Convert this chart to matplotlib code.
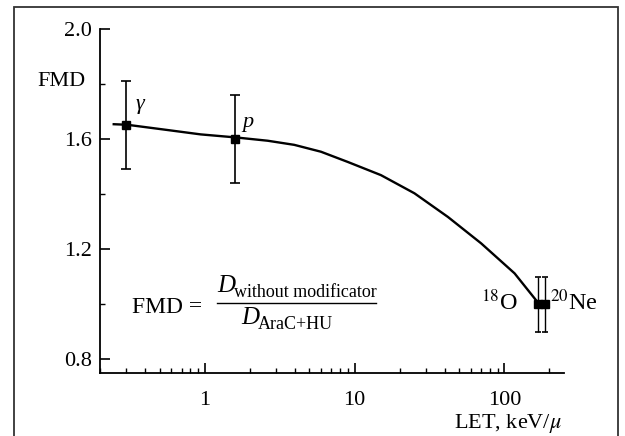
import matplotlib
matplotlib.use("Agg")
import matplotlib.pyplot as plt
from matplotlib.patches import Rectangle
from matplotlib.lines import Line2D
from matplotlib.ticker import FixedLocator, NullFormatter

plt.rcParams['font.family'] = ['Liberation Serif', 'DejaVu Serif']
plt.rcParams['mathtext.fontset'] = 'stix'

# measured points
let_pts = [0.3, 1.6]
fmd_pts = [1.65, 1.60]
fmd_err = [0.16, 0.16]
point_labels = ['γ', 'p']

# heavy ions (18O and 20Ne)
let_ions = [167, 187]
fmd_ions = [1.0, 1.0]
err_ions = [0.1, 0.1]

# fitted curve
curve_let = [0.247, 0.304, 0.563, 0.94, 1.61, 2.63, 3.96, 5.97, 9.0,
             15.0, 25.1, 42.0, 70.0, 117.0, 168.0]
curve_fmd = [1.654, 1.652, 1.633, 1.617, 1.606, 1.594, 1.579, 1.554, 1.517,
             1.469, 1.403, 1.317, 1.221, 1.112, 1.005]

yticks_major = [0.8, 1.2, 1.6, 2.0]
yticks_minor = [1.0, 1.4, 1.8]

fig = plt.figure(figsize=(6.25, 4.36), dpi=100)
ax = fig.add_axes([0.16, 0.1445, 0.7424, 0.789])

# outer frame of the figure panel
fig.patches.append(Rectangle((14/625, -0.1), (618-14)/625, 1.1 - 7/436,
                             transform=fig.transFigure, fill=False,
                             edgecolor='#333333', lw=1.3))

ax.plot(curve_let, curve_fmd, color='black', lw=1.7, zorder=2,
        solid_joinstyle='round')
ax.errorbar(let_pts, fmd_pts, yerr=fmd_err, fmt='s', color='black',
            ms=6, capsize=3.5, elinewidth=1.2, capthick=1.2, zorder=3)
ax.errorbar(let_ions, fmd_ions, yerr=err_ions, fmt='s', color='black',
            ms=6, capsize=2.5, elinewidth=1.0, capthick=1.2, zorder=3)

ax.set_xscale('log')
ax.set_xlim(0.2, 250)
ax.set_ylim(0.75, 2.0)

for s in ['top', 'right']:
    ax.spines[s].set_visible(False)
for s in ['left', 'bottom']:
    ax.spines[s].set_linewidth(1.3)

ax.set_yticks(yticks_major)
ax.set_yticklabels(['0.8', '1.2', '1.6', '2.0'])
ax.yaxis.set_minor_locator(FixedLocator(yticks_minor))
ax.set_xticks([1, 10, 100])
ax.set_xticklabels(['1', '10', '100'])
ax.xaxis.set_minor_formatter(NullFormatter())
ax.tick_params(which='major', direction='in', length=7, width=1.2,
               labelsize=16)
ax.tick_params(axis='y', which='major', pad=6)
ax.tick_params(axis='x', which='major', pad=13)
ax.tick_params(which='minor', direction='in', length=3.6, width=1.0)

# labels
ax.text(-0.032, 0.848, 'FMD', transform=ax.transAxes, fontsize=16,
        ha='right', va='center')
ax.text(0.995, -0.16, r'LET, keV/$\mu$', transform=ax.transAxes, fontsize=16,
        ha='right', va='baseline')

ax.annotate(point_labels[0], (let_pts[0], fmd_pts[0]), xytext=(6.5, 12),
            textcoords='offset points', fontsize=16, style='italic',
            va='baseline')
ax.annotate(point_labels[1], (let_pts[1], fmd_pts[1]), xytext=(5, 8.6),
            textcoords='offset points', fontsize=16, style='italic',
            va='baseline')
ax.annotate(r'$^{18}$O', (let_ions[0], fmd_ions[0]), xytext=(-14, -4.5),
            textcoords='offset points', fontsize=17.5, ha='right',
            va='baseline')
ax.annotate(r'$^{20}$Ne', (let_ions[1], fmd_ions[1]), xytext=(3.6, -4.5),
            textcoords='offset points', fontsize=17.5, ha='left',
            va='baseline')


# formula, placed in pixel-ish positions converted to axes fraction
def axpos(px, py):
    return (px - 100) / 464, (373 - py) / 344


def put(px, py, s, **kw):
    x, y = axpos(px, py)
    ax.text(x, y, s, transform=ax.transAxes, va='baseline', **kw)


put(132, 313, 'FMD =', fontsize=17)
put(217, 292, 'D', fontsize=18, style='italic')
put(234, 297, 'without modificator', fontsize=13)
put(241, 324, 'D', fontsize=18, style='italic')
put(258, 329, 'AraC+HU', fontsize=13)
x0, y0 = axpos(217, 303)
x1, _ = axpos(376, 303)
ax.add_line(Line2D([x0, x1], [y0, y0], transform=ax.transAxes,
                   color='black', lw=1.0, clip_on=False))

fig.savefig('out.png', dpi=100)
